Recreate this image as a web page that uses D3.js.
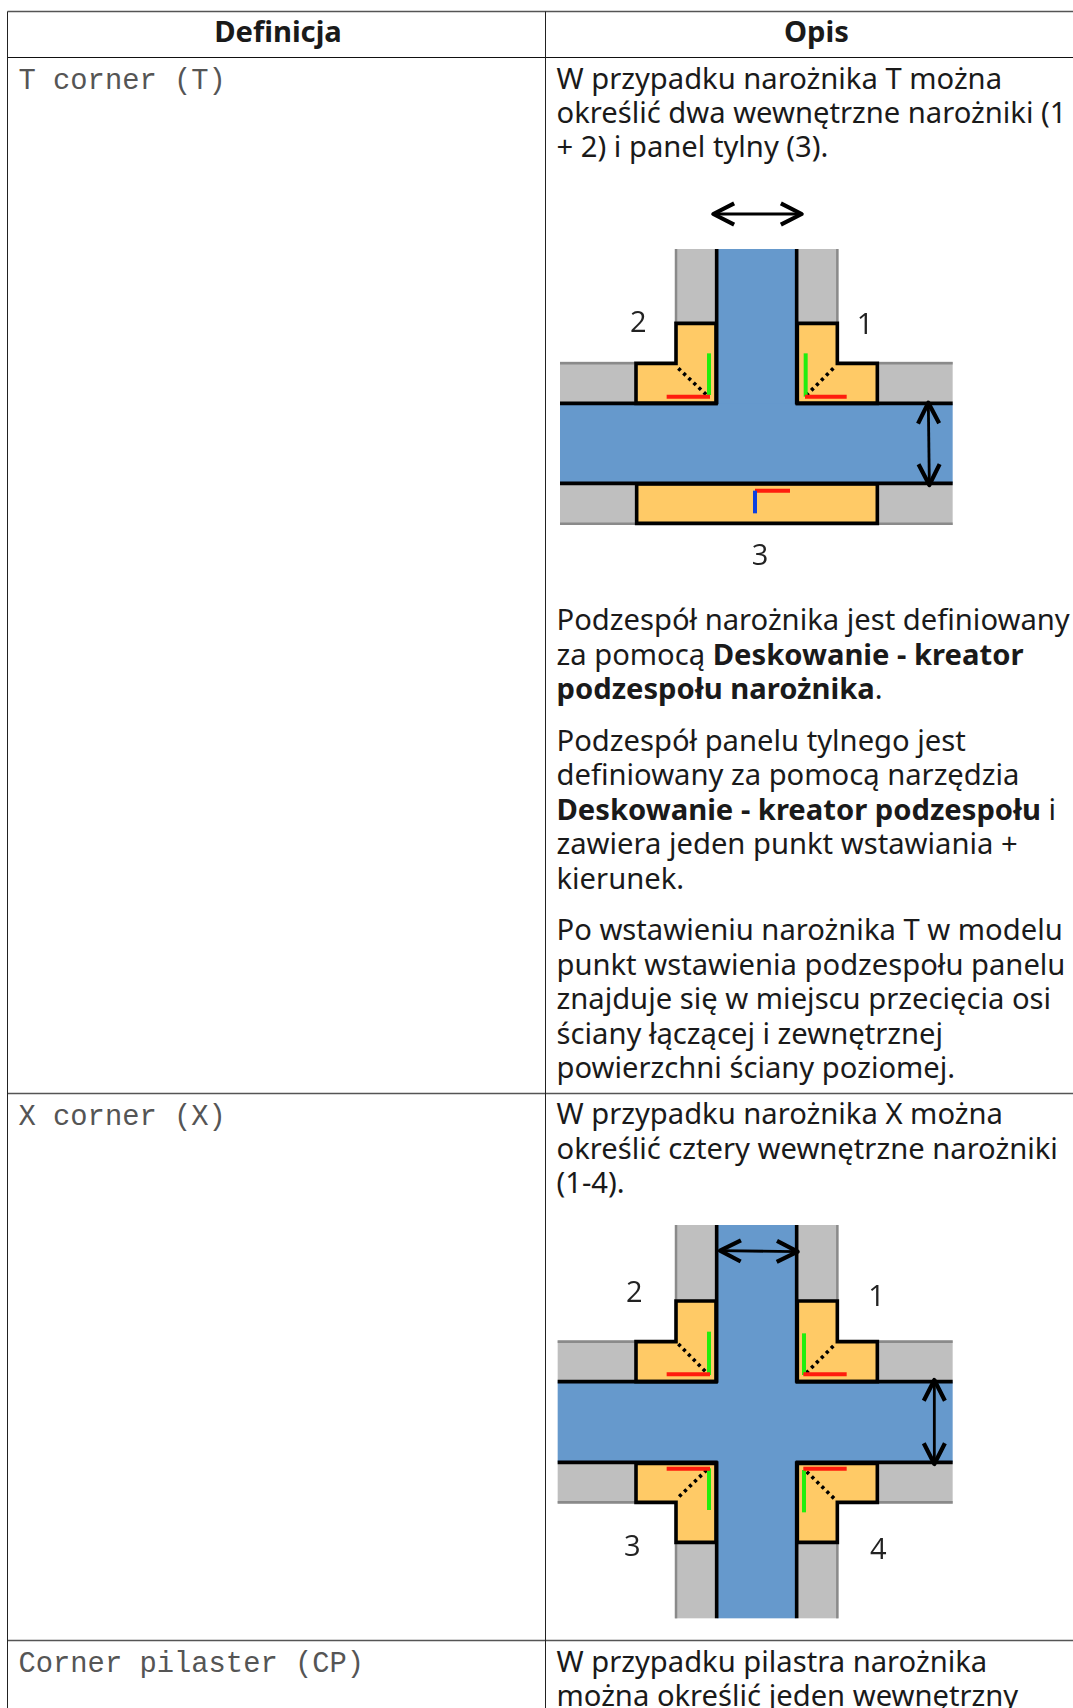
<!DOCTYPE html>
<html>
<head>
<meta charset="utf-8">
<script src="https://cdn.jsdelivr.net/npm/d3@7"></script>
<style>
  html, body { margin: 0; padding: 0; background: #fff; overflow: hidden; }
  text { fill: #1a1a1a; }
</style>
</head>
<body>
<script>
// table content
const headers = ["Definicja", "Opis"];
const headerX = [278, 816.5];
const rowLabels = ["T corner (T)", "X corner (X)", "Corner pilaster (CP)"];
const rowBorders = [1093.5, 1640.5];

// one entry per line, each line is a list of [text, bold] runs
const opisLines = [
  { y: 88.5, runs: [["W przypadku narożnika T można", 0]] },
  { y: 122.5, runs: [["określić dwa wewnętrzne narożniki (1", 0]] },
  { y: 156.5, runs: [["+ 2) i panel tylny (3).", 0]] },
  { y: 630, runs: [["Podzespół narożnika jest definiowany", 0]] },
  { y: 665, runs: [["za pomocą ", 0], ["Deskowanie - kreator", 1]] },
  { y: 699, runs: [["podzespołu narożnika", 1], [".", 0]] },
  { y: 751, runs: [["Podzespół panelu tylnego jest", 0]] },
  { y: 785, runs: [["definiowany za pomocą narzędzia", 0]] },
  { y: 820, runs: [["Deskowanie - kreator podzespołu", 1], [" i", 0]] },
  { y: 854, runs: [["zawiera jeden punkt wstawiania +", 0]] },
  { y: 889, runs: [["kierunek.", 0]] },
  { y: 940, runs: [["Po wstawieniu narożnika T w modelu", 0]] },
  { y: 974.5, runs: [["punkt wstawienia podzespołu panelu", 0]] },
  { y: 1009, runs: [["znajduje się w miejscu przecięcia osi", 0]] },
  { y: 1044, runs: [["ściany łączącej i zewnętrznej", 0]] },
  { y: 1078, runs: [["powierzchni ściany poziomej.", 0]] },
  { y: 1124, runs: [["W przypadku narożnika X można", 0]] },
  { y: 1159, runs: [["określić cztery wewnętrzne narożniki", 0]] },
  { y: 1193, runs: [["(1-4).", 0]] },
  { y: 1672, runs: [["W przypadku pilastra narożnika", 0]] },
  { y: 1706, runs: [["można określić jeden wewnętrzny", 0]] }
];

// figure geometry, in pixels of the source bitmap (3x)
const tFigure = {
  top: 180,
  grey: [[405,207,125,223],[770,207,125,223],[60,545,225,125],[1015,545,223,125],[60,910,230,125],[1012,910,226,125]],
  greyEdges: [[408,207,408,430],[892,207,892,430],[60,550,285,550],[1015,550,1238,550],[60,1031,290,1031],[1012,1031,1238,1031]],
  blue: [[530,207,240,480],[60,670,1178,240]],
  orange: [
    [[288,550],[408,550],[408,430],[528,430],[528,670],[288,670]],
    [[772,430],[892,430],[892,550],[1012,550],[1012,670],[772,670]],
    [[290,912],[1012,912],[1012,1030],[290,1030]]
  ],
  black: [[60,670,533,670],[767,670,1238,670],[60,910,1238,910],[530,207,530,673],[770,207,770,673]],
  green: [[507,520,507,645],[797,520,797,650]],
  red: [[380,650,510,650],[795,650,920,650],[645,932,750,932]],
  bluePen: [[645,932,645,1000]],
  dots: [[415,565,505,650],[880,565,795,650]],
  arrows: [[520,102,785,102],[1165,668,1168,915]],
  labels: [["2",295,425],["1",975,430],["3",660,1122]]
};
const xFigure = {
  top: 1200,
  grey: [[405,75,125,225],[770,75,125,225],[405,1030,125,225],[770,1030,125,225],[53,420,235,125],[1012,420,226,125],[53,787,235,125],[1012,787,226,125]],
  greyEdges: [[408,75,408,300],[892,75,892,300],[408,1030,408,1255],[892,1030,892,1255],[53,425,288,425],[1012,425,1238,425],[53,907,288,907],[1012,907,1238,907]],
  blue: [[530,75,240,1180],[53,545,1185,242]],
  orange: [
    [[288,425],[408,425],[408,303],[528,303],[528,545],[288,545]],
    [[772,303],[892,303],[892,425],[1012,425],[1012,545],[772,545]],
    [[288,790],[528,790],[528,1027],[408,1027],[408,907],[288,907]],
    [[772,790],[1012,790],[1012,907],[892,907],[892,1027],[772,1027]]
  ],
  black: [[53,545,533,545],[767,545,1238,545],[53,787,533,787],[767,787,1238,787],[530,75,530,548],[770,75,770,548],[530,784,530,1255],[770,784,770,1255]],
  green: [[507,395,507,525],[792,400,792,525],[507,805,507,930],[792,810,792,937]],
  red: [[380,523,510,523],[790,523,920,523],[380,806,510,806],[790,806,920,806]],
  bluePen: [],
  dots: [[415,432,500,518],[880,438,795,523],[500,810,412,895],[800,815,885,898]],
  arrows: [[540,152,773,155],[1183,540,1183,792]],
  labels: [["2",283,275],["1",1010,287],["3",277,1035],["4",1015,1045]]
};

const W = 1073, H = 1708;
const colX = [7.5, 545.5];
const tableTop = 11.5, headBottom = 57.5;
const bodyFont = "'Noto Sans', 'Open Sans', sans-serif";
const fontSize = "29.2px";

const svg = d3.select("body").append("svg")
  .attr("width", W).attr("height", H)
  .attr("viewBox", [0, 0, W, H])
  .style("display", "block");

svg.append("defs").append("filter")
  .attr("id", "soft")
  .attr("x", "-5%").attr("y", "-5%").attr("width", "110%").attr("height", "110%")
  .append("feGaussianBlur").attr("stdDeviation", 0.5);

// table rules, the grey ones are a bit heavier
const rules = svg.append("g");
[[tableTop, "#555", 1.4], [headBottom, "#111", 1], [rowBorders[0], "#555", 1.4], [rowBorders[1], "#555", 1.4]].forEach(r => {
  rules.append("line").attr("x1", colX[0]).attr("x2", W).attr("y1", r[0]).attr("y2", r[0])
    .attr("stroke", r[1]).attr("stroke-width", r[2]);
});
colX.forEach(x => {
  rules.append("line").attr("x1", x).attr("x2", x).attr("y1", tableTop).attr("y2", H)
    .attr("stroke", "#222").attr("stroke-width", 1);
});

// headers
svg.append("g").selectAll("text").data(headers).enter().append("text")
  .attr("x", (d, i) => headerX[i])
  .attr("y", 42)
  .attr("text-anchor", "middle")
  .style("font-family", bodyFont)
  .style("font-weight", "700")
  .style("font-size", fontSize)
  .text(d => d);

// left column, monospace labels
const labelY = [88.5, 1125, 1672];
svg.append("g").selectAll("text").data(rowLabels).enter().append("text")
  .attr("x", 18.5)
  .attr("y", (d, i) => labelY[i])
  .style("font-family", "'Liberation Mono', monospace")
  .style("font-size", "28.8px")
  .style("fill", "#555")
  .text(d => d);

// right column text
const lines = svg.append("g").selectAll("text").data(opisLines).enter().append("text")
  .attr("x", 556.5)
  .attr("y", d => d.y)
  .style("font-family", bodyFont)
  .style("font-size", fontSize);
lines.selectAll("tspan").data(d => d.runs).enter().append("tspan")
  .style("font-weight", d => d[1] ? "700" : "400")
  .text(d => d[0]);

// figures
function drawFigure(fig) {
  const x = d3.scaleLinear().domain([0, 1290]).range([540, 970]);
  const y = d3.scaleLinear().domain([0, 1200]).range([fig.top, fig.top + 400]);
  const g = svg.append("g");
  const marks = g.append("g").attr("filter", "url(#soft)");
  const polyLine = d3.line().x(d => x(d[0])).y(d => y(d[1]));

  const rects = (data, fill) => marks.append("g").selectAll("rect").data(data).enter().append("rect")
    .attr("x", d => x(d[0])).attr("y", d => y(d[1]))
    .attr("width", d => x(d[0] + d[2]) - x(d[0]))
    .attr("height", d => y(d[1] + d[3]) - y(d[1]))
    .attr("fill", fill);
  const segs = (data, stroke, width, dash) => marks.append("g").selectAll("line").data(data).enter().append("line")
    .attr("x1", d => x(d[0])).attr("y1", d => y(d[1]))
    .attr("x2", d => x(d[2])).attr("y2", d => y(d[3]))
    .attr("stroke", stroke).attr("stroke-width", width)
    .attr("stroke-dasharray", dash || null);

  rects(fig.grey, "#bfbfbf");
  segs(fig.greyEdges, "#8a8a8a", 2.5);
  rects(fig.blue, "#6699cc");
  marks.append("g").selectAll("path").data(fig.orange).enter().append("path")
    .attr("d", d => polyLine(d) + "Z")
    .attr("fill", "#ffca66")
    .attr("stroke", "#000").attr("stroke-width", 3.6);
  segs(fig.black, "#000", 3.6);
  segs(fig.dots, "#000", 3.6, "3.2 3.8");
  segs(fig.green, "#22ee11", 4);
  segs(fig.red, "#ff1a0a", 4);
  segs(fig.bluePen, "#0a3fe0", 4);

  // double headed arrows
  fig.arrows.forEach(a => {
    segs([a], "#000", 2.8);
    const ang = Math.atan2(a[3] - a[1], a[2] - a[0]);
    const head = (px, py, dir) => {
      const reach = 70, spread = 0.47;
      const p = s => [px + dir * reach * Math.cos(ang + s * spread), py + dir * reach * Math.sin(ang + s * spread)];
      marks.append("path").datum([p(1), [px, py], p(-1)])
        .attr("d", polyLine).attr("fill", "none")
        .attr("stroke", "#000").attr("stroke-width", 4.2)
        .attr("stroke-linejoin", "round");
    };
    head(a[0], a[1], 1);
    head(a[2], a[3], -1);
  });

  g.append("g").selectAll("text").data(fig.labels).enter().append("text")
    .attr("x", d => x(d[1])).attr("y", d => y(d[2]) + 10.5)
    .attr("text-anchor", "middle")
    .attr("filter", "url(#soft)")
    .style("font-family", "'Open Sans', sans-serif")
    .style("font-size", "29px")
    .style("fill", "#222")
    .text(d => d[0]);
}
drawFigure(tFigure);
drawFigure(xFigure);
</script>
</body>
</html>
